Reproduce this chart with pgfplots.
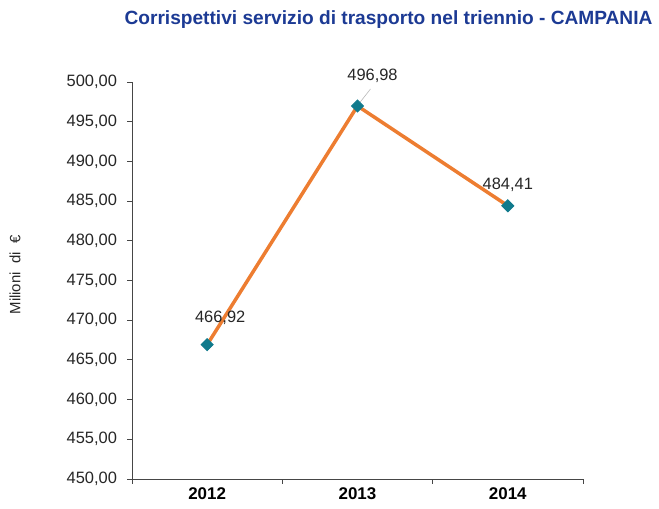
\documentclass[border=0pt]{standalone}
\usepackage{fontspec}
\setmainfont{Liberation Sans}
\usepackage{pgfplots}
\pgfplotsset{compat=1.18}
\usetikzlibrary{calc}

\definecolor{titleblue}{RGB}{28,58,148}
\definecolor{lineorange}{RGB}{237,125,49}
\definecolor{markteal}{RGB}{16,122,140}
\definecolor{axisgray}{RGB}{70,70,70}

\begin{document}
\begin{tikzpicture}
\begin{axis}[
  scale only axis, width=451bp, height=397bp,
  xmin=-0.5, xmax=2.5, ymin=450, ymax=500,
  axis x line*=bottom, axis y line*=left,
  axis line style={axisgray, line width=0.9bp},
  every tick/.style={axisgray, line width=0.9bp},
  tick align=outside, major tick length=4.5bp,
  xtick={-0.5,0.5,1.5,2.5}, xticklabels={},
  extra x ticks={0,1,2}, extra x tick labels={2012,2013,2014},
  extra x tick style={major tick length=0pt,
    tick label style={font=\fontsize{17}{17}\selectfont\bfseries, text=black, yshift=-5bp}},
  ytick={450,455,...,500},
  yticklabel style={font=\fontsize{16.5}{16.5}\selectfont, text=black!85, xshift=-7bp,
    /pgf/number format/.cd, fixed, fixed zerofill, precision=2, use comma, 1000 sep={}, assume math mode=true},
  clip=false,
  point meta=explicit symbolic,
  nodes near coords,
  nodes near coords style={anchor=center, font=\fontsize{16.5}{16.5}\selectfont, text=black!85},
  coordinate style/.condition={x==0}{xshift=13bp, yshift=27bp},
  coordinate style/.condition={x==1}{xshift=15bp, yshift=30bp},
  coordinate style/.condition={x==2}{xshift=0bp, yshift=21bp},
]
\addplot[lineorange, line width=3.5bp, mark=square*, mark size=4.2bp,
  mark options={fill=markteal, draw=markteal, line width=1bp, rotate=45, rounded corners=1.2bp}]
  coordinates {(0,466.92)[466,92] (1,496.98)[496,98] (2,484.41)[484,41]};
\draw[gray!55, line width=0.6bp] (axis cs:1,496.98) ++(2bp,3bp) -- ++(11bp,14bp);
\coordinate (bl) at (rel axis cs:0,0);
\end{axis}
\node[rotate=90, font=\fontsize{15}{15}\selectfont, text=black!85] at ($(bl)+(-117bp,204bp)$) {Milioni\ \ di\ \ €};
\node[font=\fontsize{19.2}{19.2}\selectfont\bfseries, text=titleblue] at ($(bl)+(256.5bp,459bp)$) {Corrispettivi servizio di trasporto nel triennio - CAMPANIA};
\pgfresetboundingbox
\path ($(bl)+(-132bp,-30bp)$) rectangle ($(bl)+(527bp,479bp)$);
\end{tikzpicture}
\end{document}
